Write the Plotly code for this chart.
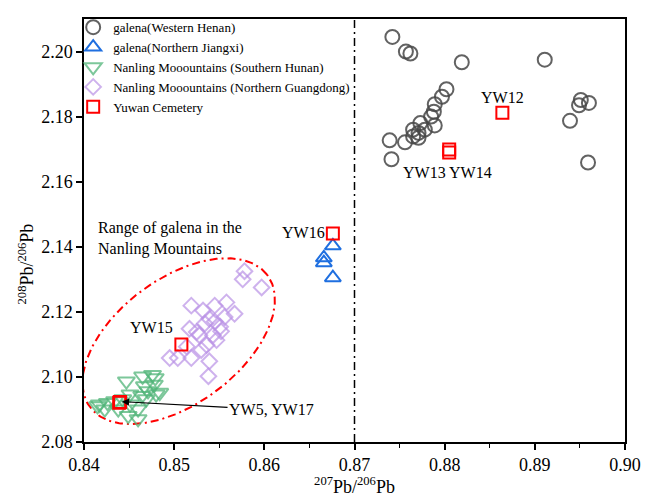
import numpy as np
import plotly.graph_objects as go

# ---- data ----
henan_x = [0.8742, 0.8757, 0.8762, 0.8819, 0.8911, 0.8802, 0.8797, 0.8789, 0.8788, 0.8785,
           0.8773, 0.8789, 0.8765, 0.8778, 0.8771, 0.8765, 0.8771, 0.8756, 0.8739, 0.8741,
           0.8951, 0.8960, 0.8949, 0.8939, 0.8959]
henan_y = [2.2045, 2.2000, 2.1994, 2.1967, 2.1975, 2.1884, 2.1861, 2.1838, 2.1815, 2.1800,
           2.1780, 2.1773, 2.1760, 2.1760, 2.1750, 2.1739, 2.1735, 2.1721, 2.1727, 2.1669,
           2.1851, 2.1842, 2.1835, 2.1787, 2.1659]

jiangxi_x = [0.8676, 0.8666, 0.8666, 0.8676]
jiangxi_y = [2.1403, 2.1366, 2.1351, 2.1305]

hunan_x = [0.8447, 0.8465, 0.8476, 0.8479, 0.8467, 0.8478, 0.8471, 0.8480, 0.8464, 0.8451,
           0.8469, 0.8417, 0.8426, 0.8434, 0.8443, 0.8451, 0.8460, 0.8449, 0.8460, 0.8423,
           0.8438, 0.8484, 0.8415]
hunan_y = [2.0987, 2.1002, 2.1007, 2.0997, 2.0972, 2.0977, 2.0957, 2.0947, 2.0942, 2.0947,
           2.0932, 2.0916, 2.0921, 2.0926, 2.0932, 2.0916, 2.0901, 2.0881, 2.0871, 2.0901,
           2.0901, 2.0952, 2.0911]

guangdong_x = [0.8578, 0.8576, 0.8597, 0.8519, 0.8532, 0.8545, 0.8558, 0.8556, 0.8567, 0.8539,
               0.8534, 0.8551, 0.8517, 0.8528, 0.8543, 0.8547, 0.8536, 0.8504, 0.8519, 0.8539,
               0.8538, 0.8530, 0.8514, 0.8525, 0.8495, 0.8552, 0.8545]
guangdong_y = [2.1325, 2.1300, 2.1275, 2.1219, 2.1204, 2.1219, 2.1229, 2.1184, 2.1194, 2.1179,
               2.1164, 2.1154, 2.1148, 2.1128, 2.1128, 2.1113, 2.1098, 2.1058, 2.1058, 2.1048,
               2.1002, 2.1083, 2.1093, 2.1138, 2.1058, 2.1140, 2.1170]

yuwan_x = [0.8676, 0.8864, 0.8805, 0.8805, 0.8508, 0.8439, 0.8440]
yuwan_y = [2.1441, 2.1812, 2.1699, 2.1690, 2.1100, 2.0921, 2.0923]

x_ticks = [0.84, 0.85, 0.86, 0.87, 0.88, 0.89, 0.90]
x_tick_text = ["0.84", "0.85", "0.86", "0.87", "0.88", "0.89", "0.90"]
y_ticks = [2.08, 2.10, 2.12, 2.14, 2.16, 2.18, 2.20]
y_tick_text = ["2.08", "2.10", "2.12", "2.14", "2.16", "2.18", "2.20"]

FONT = "Liberation Serif, Times New Roman, serif"

fig = go.Figure()

# ellipse outline (range of galena in Nanling Mountains)
cx, cy = 0.8505, 2.1110
a_px, b_px, theta = 111, 63, np.deg2rad(37.5)
t = np.linspace(0, 2 * np.pi, 300)
px = a_px * np.cos(t) * np.cos(theta) - b_px * np.sin(t) * np.sin(theta)
py = a_px * np.cos(t) * np.sin(theta) + b_px * np.sin(t) * np.cos(theta)
fig.add_trace(go.Scatter(x=cx + px / 9000, y=cy + py / 3300, mode="lines",
                         line=dict(color="#ff0000", width=2, dash="8px,4px,2px,4px"),
                         showlegend=False, hoverinfo="skip"))

fig.add_trace(go.Scatter(x=henan_x, y=henan_y, mode="markers", name="galena(Western Henan)",
                         marker=dict(symbol="circle-open", size=14, color="rgba(70,70,70,0.85)",
                                     line=dict(width=2))))
fig.add_trace(go.Scatter(x=jiangxi_x, y=jiangxi_y, mode="markers", name="galena(Northern Jiangxi)",
                         marker=dict(symbol="triangle-up-open", size=14, color="#1f6fe0",
                                     line=dict(width=2))))
fig.add_trace(go.Scatter(x=hunan_x, y=hunan_y, mode="markers", name="Nanling Mooountains (Southern Hunan)",
                         marker=dict(symbol="triangle-down-open", size=15, color="rgba(80,180,120,0.75)",
                                     line=dict(width=2))))
fig.add_trace(go.Scatter(x=guangdong_x, y=guangdong_y, mode="markers",
                         name="Nanling Mooountains (Northern Guangdong)",
                         marker=dict(symbol="diamond-open", size=12, color="rgba(185,145,230,0.7)",
                                     line=dict(width=2))))
fig.add_trace(go.Scatter(x=yuwan_x, y=yuwan_y, mode="markers", name="Yuwan Cemetery",
                         marker=dict(symbol="square-open", size=12, color="#ff0000",
                                     line=dict(width=2))))

fig.add_shape(type="line", xref="x", yref="paper", x0=0.87, x1=0.87, y0=0, y1=1,
              line=dict(color="black", width=1.5, dash="8px,4px,2px,4px"))

ann_font = dict(family=FONT, size=16, color="black")
fig.add_annotation(x=0.8864, y=2.1860, text="YW12", showarrow=False, font=ann_font)
fig.add_annotation(x=0.8803, y=2.1629, text="YW13 YW14", showarrow=False, font=ann_font)
fig.add_annotation(x=0.8643, y=2.1444, text="YW16", showarrow=False, font=ann_font)
fig.add_annotation(x=0.8475, y=2.1151, text="YW15", showarrow=False, font=ann_font)
fig.add_annotation(x=0.8495, y=2.1426, text="Range of galena in the<br>Nanling Mountains",
                   showarrow=False, align="left", font=ann_font)
fig.add_annotation(x=0.8442, y=2.0924, ax=0.8608, ay=2.0899, axref="x", ayref="y",
                   text="YW5, YW17", showarrow=True, arrowhead=2, arrowsize=1.2, arrowwidth=1.2,
                   arrowcolor="black", font=ann_font)

fig.add_annotation(xref="paper", yref="paper", x=-0.107, y=0.42, textangle=-90,
                   xanchor="center", yanchor="middle",
                   text="<sup>208</sup>Pb/<sup>206</sup>Pb", showarrow=False,
                   font=dict(family=FONT, size=18, color="black"))

axis_common = dict(showgrid=False, zeroline=False, showline=True, linecolor="black", linewidth=1.5,
                   mirror=True, ticks="outside", ticklen=6, tickwidth=1.5, tickcolor="black",
                   automargin=False,
                   tickfont=dict(family=FONT, size=18, color="black"))

fig.update_xaxes(range=[0.84, 0.90], tickvals=x_ticks, ticktext=x_tick_text,
                 minor=dict(ticks="outside", ticklen=4, tickwidth=1.2, tickcolor="black", dtick=0.005),
                 title=dict(text="<sup>207</sup>Pb/<sup>206</sup>Pb",
                            font=dict(family=FONT, size=18, color="black"), standoff=4),
                 **axis_common)
fig.update_yaxes(range=[2.08, 2.21], tickvals=y_ticks, ticktext=y_tick_text, **axis_common)

fig.update_layout(
    width=646, height=497,
    margin=dict(l=84, r=21, t=13, b=55),
    plot_bgcolor="white", paper_bgcolor="white",
    font=dict(family=FONT, color="black"),
    legend=dict(x=-0.02, y=1.016, xanchor="left", yanchor="top", bgcolor="rgba(0,0,0,0)",
                font=dict(family=FONT, size=13, color="black"), tracegroupgap=0),
)

fig.write_html("out.html")
